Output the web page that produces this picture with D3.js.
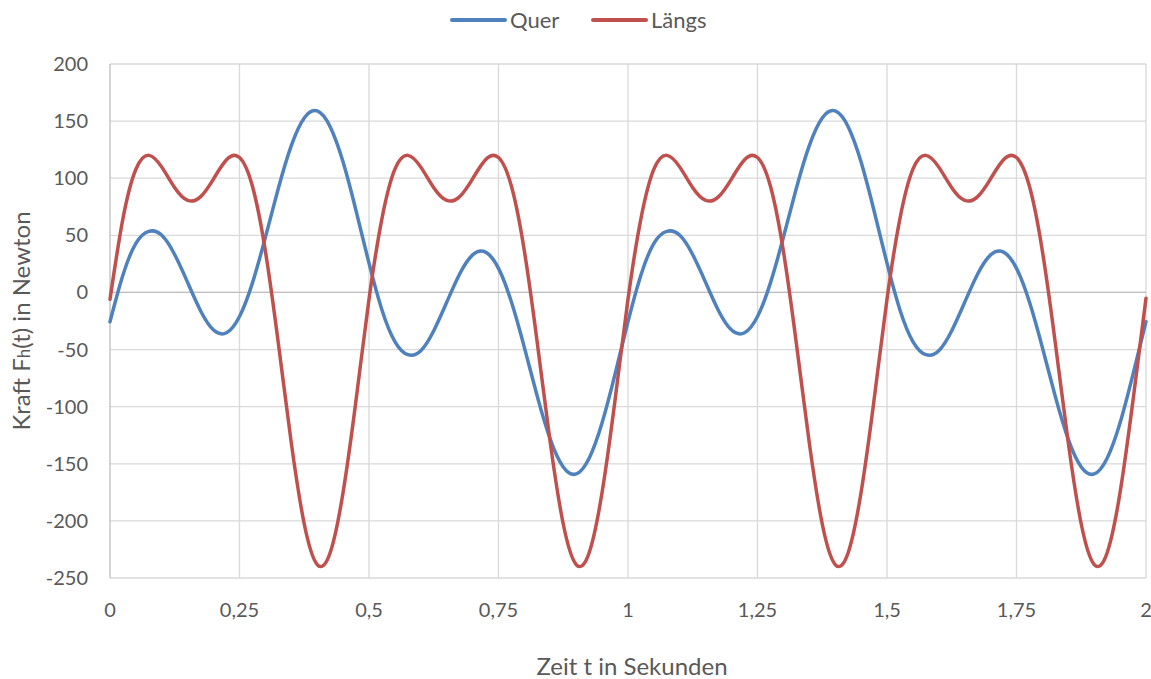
<!DOCTYPE html>
<html>
<head>
<meta charset="utf-8">
<script src="https://cdn.jsdelivr.net/npm/d3@7"></script>
<style>
  html, body { margin: 0; padding: 0; background: #fff; }
  svg text { font-family: Lato, "Open Sans", sans-serif; fill: #595959; }
</style>
</head>
<body>
<svg id="chart" width="1151" height="679"></svg>
<script>
// Zeitpunkte in Sekunden
const zeit = [
  0, 0.025, 0.05, 0.075, 0.1, 0.125, 0.15, 0.175, 0.2, 0.225,
  0.25, 0.275, 0.3, 0.325, 0.35, 0.375, 0.4, 0.425, 0.45, 0.475,
  0.5, 0.525, 0.55, 0.575, 0.6, 0.625, 0.65, 0.675, 0.7, 0.725,
  0.75, 0.775, 0.8, 0.825, 0.85, 0.875, 0.9, 0.925, 0.95, 0.975,
  1, 1.025, 1.05, 1.075, 1.1, 1.125, 1.15, 1.175, 1.2, 1.225,
  1.25, 1.275, 1.3, 1.325, 1.35, 1.375, 1.4, 1.425, 1.45, 1.475,
  1.5, 1.525, 1.55, 1.575, 1.6, 1.625, 1.65, 1.675, 1.7, 1.725,
  1.75, 1.775, 1.8, 1.825, 1.85, 1.875, 1.9, 1.925, 1.95, 1.975,
  2
];

// Querkraft in N
const quer = [
  -25.6, 15.3, 43, 53.5, 50, 33, 8.6, -16.2, -32.9, -35.3,
  -21.1, 8.4, 48.3, 91.2, 128.6, 152.8, 158.9, 145.1, 114.1, 71.5,
  25.6, -15.3, -43, -54.5, -51, -33.5, -8.6, 16.2, 32.9, 35.3,
  21.1, -8.4, -48.3, -91.2, -128.6, -152.8, -158.9, -145.1, -114.1, -71.5,
  -25.6, 15.3, 43, 53.5, 50, 33, 8.6, -16.2, -32.9, -35.3,
  -21.1, 8.4, 48.3, 91.2, 128.6, 152.8, 158.9, 145.1, 114.1, 71.5,
  25.6, -15.3, -43, -54.5, -51, -33.5, -8.6, 16.2, 32.9, 35.3,
  21.1, -8.4, -48.3, -91.2, -128.6, -152.8, -158.9, -145.1, -114.1, -71.5,
  -25.6
];

// Längskraft in N
const laengs = [
  -6, 64.7, 107.9, 120, 109.7, 91.7, 80.6, 83.9, 99.5, 116.1,
  118.1, 92.9, 36.1, -44.6, -131.7, -202.7, -238.2, -227.9, -174.9, -94.1,
  -6, 64.7, 107.9, 120, 109.7, 91.7, 80.6, 83.9, 99.5, 116.1,
  118.1, 92.9, 36.1, -44.6, -131.7, -202.7, -238.2, -227.9, -174.9, -94.1,
  -6, 64.7, 107.9, 120, 109.7, 91.7, 80.6, 83.9, 99.5, 116.1,
  118.1, 92.9, 36.1, -44.6, -131.7, -202.7, -238.2, -227.9, -174.9, -94.1,
  -6, 64.7, 107.9, 120, 109.7, 91.7, 80.6, 83.9, 99.5, 116.1,
  118.1, 92.9, 36.1, -44.6, -131.7, -202.7, -238.2, -227.9, -174.9, -94.1,
  -5
];

const seriesNames = ["Quer", "Längs"];
const seriesColors = ["#4f81bd", "#c0504d"];

const xTicks = [0, 0.25, 0.5, 0.75, 1, 1.25, 1.5, 1.75, 2];
const xTickLabels = ["0", "0,25", "0,5", "0,75", "1", "1,25", "1,5", "1,75", "2"];
const yTicks = [200, 150, 100, 50, 0, -50, -100, -150, -200, -250];
const yTickLabels = ["200", "150", "100", "50", "0", "-50", "-100", "-150", "-200", "-250"];

const svg = d3.select("#chart");
const plot = { left: 110, right: 1146, top: 64, bottom: 578 };

const x = d3.scaleLinear().domain([0, 2]).range([plot.left, plot.right]);
const y = d3.scaleLinear().domain([-250, 200]).range([plot.bottom, plot.top]);

// Gitterlinien
const grid = svg.append("g");
grid.selectAll("line.h").data(yTicks).join("line")
  .attr("x1", plot.left).attr("x2", plot.right)
  .attr("y1", d => y(d)).attr("y2", d => y(d))
  .attr("stroke", "#d9d9d9").attr("stroke-width", 1.3);
grid.selectAll("line.v").data(xTicks.slice(1)).join("line")
  .attr("x1", d => x(d)).attr("x2", d => x(d))
  .attr("y1", plot.top).attr("y2", plot.bottom)
  .attr("stroke", "#d9d9d9").attr("stroke-width", 1.3);

// Achsenlinien (Nulllinie und senkrechte Achse)
svg.append("line")
  .attr("x1", plot.left).attr("x2", plot.right)
  .attr("y1", y(0)).attr("y2", y(0))
  .attr("stroke", "#bfbfbf").attr("stroke-width", 1.3);
svg.append("line")
  .attr("x1", x(0)).attr("x2", x(0))
  .attr("y1", plot.top).attr("y2", plot.bottom)
  .attr("stroke", "#bfbfbf").attr("stroke-width", 1.3);

// Achsenbeschriftungen
svg.append("g").selectAll("text").data(yTicks).join("text")
  .attr("x", 88).attr("y", d => y(d))
  .attr("dy", "0.35em").attr("text-anchor", "end")
  .attr("font-size", 20)
  .text((d, i) => yTickLabels[i]);

svg.append("g").selectAll("text").data(xTicks).join("text")
  .attr("x", d => x(d)).attr("y", 610)
  .attr("dy", "0.35em").attr("text-anchor", "middle")
  .attr("font-size", 20)
  .text((d, i) => xTickLabels[i]);

// Achsentitel
svg.append("text")
  .attr("x", (plot.left + plot.right) / 2 + 4).attr("y", 667)
  .attr("dy", "0.35em").attr("text-anchor", "middle")
  .attr("font-size", 24)
  .text("Zeit t in Sekunden");

const yTitle = svg.append("text")
  .attr("transform", `translate(22, ${(plot.top + plot.bottom) / 2}) rotate(-90)`)
  .attr("dy", "0.35em").attr("text-anchor", "middle")
  .attr("font-size", 24);
yTitle.append("tspan").text("Kraft F");
yTitle.append("tspan").attr("font-size", 17).text("h");
yTitle.append("tspan").text("(t) in Newton");

// Kurven
const series = [quer, laengs];
const line = d3.line()
  .x((d, i) => x(zeit[i]))
  .y(d => y(d))
  .curve(d3.curveNatural);

svg.append("g").selectAll("path").data(series).join("path")
  .attr("d", d => line(d))
  .attr("fill", "none")
  .attr("stroke", (d, i) => seriesColors[i])
  .attr("stroke-width", 3.5)
  .attr("stroke-linejoin", "round")
  .attr("stroke-linecap", "round");

// Legende
const legendX = [452, 593];
const legend = svg.append("g").selectAll("g").data(seriesNames).join("g")
  .attr("transform", (d, i) => `translate(${legendX[i]}, 20)`);
legend.append("line")
  .attr("x1", 0).attr("x2", 53).attr("y1", 0).attr("y2", 0)
  .attr("stroke", (d, i) => seriesColors[i])
  .attr("stroke-width", 4).attr("stroke-linecap", "round");
legend.append("text")
  .attr("x", 58).attr("y", 0).attr("dy", "0.35em")
  .attr("font-size", 22)
  .text(d => d);
</script>
</body>
</html>
